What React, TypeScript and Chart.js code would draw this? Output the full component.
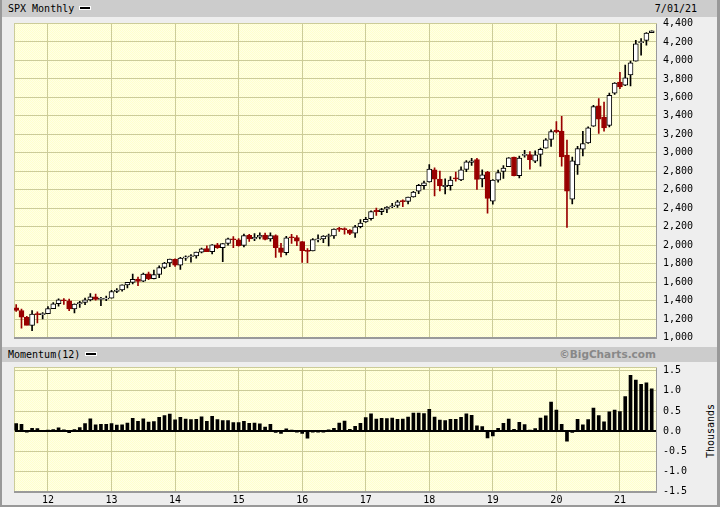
import React, { useEffect, useRef } from "react";
import { Chart, registerables } from "chart.js";

Chart.register(...registerables);

const MONO = "'DejaVu Sans Mono', monospace";
const KHAKI = "#cccc99";
const RED = "#990000";

// Monthly bars, Jul 2011 … Jul 2021 (index 0 = Jul 2011)
const openValues = [
  1320.6, 1292.6, 1219.1, 1131.2, 1251.0, 1246.9,
  1258.9, 1312.4, 1365.9, 1408.5, 1397.9, 1310.0, 1362.3, 1379.3, 1406.5, 1440.9, 1412.2, 1416.2,
  1426.2, 1498.1, 1514.7, 1569.2, 1597.6, 1631.7, 1609.8, 1689.4, 1635.9, 1682.4, 1758.7, 1806.6,
  1845.9, 1782.7, 1857.7, 1874.0, 1884.4, 1923.9, 1962.3, 1929.8, 2004.1, 1971.4, 2018.2, 2065.8,
  2058.9, 1996.7, 2105.2, 2067.6, 2087.4, 2108.6, 2067.0, 2104.5, 1970.1, 1919.7, 2080.8, 2082.9,
  2038.2, 1936.9, 1937.1, 2056.6, 2067.2, 2093.9, 2099.3, 2173.2, 2171.3, 2164.3, 2128.7, 2200.2,
  2251.6, 2285.6, 2380.1, 2362.3, 2388.5, 2415.7, 2431.4, 2477.1, 2474.4, 2521.2, 2583.2, 2645.1,
  2683.7, 2816.5, 2715.2, 2633.4, 2643.0, 2718.7, 2705.0, 2821.2, 2897.0, 2926.3, 2717.6, 2790.5,
  2477.0, 2702.3, 2798.2, 2848.6, 2952.3, 2751.5, 2971.4, 2980.3, 2909.0, 2983.7, 3050.7, 3143.9,
  3244.7, 3235.7, 2974.3, 2498.1, 2869.1, 3038.8, 3105.9, 3288.3, 3507.4, 3385.9, 3296.2, 3645.9,
  3764.6, 3731.2, 3842.5, 3992.8, 4192.0, 4216.5, 4300.7,
];
const highValues = [
  1356.5, 1307.4, 1229.3, 1292.7, 1277.6, 1269.4,
  1333.5, 1378.0, 1419.2, 1422.4, 1415.3, 1363.5, 1391.7, 1426.7, 1474.5, 1471.0, 1434.3, 1448.0,
  1509.9, 1530.9, 1570.3, 1597.6, 1687.2, 1654.2, 1698.8, 1709.7, 1729.9, 1775.2, 1813.6, 1849.4,
  1850.8, 1867.9, 1884.0, 1897.3, 1924.0, 1968.2, 1991.4, 2005.0, 2019.3, 2018.2, 2075.8, 2093.6,
  2072.4, 2119.6, 2117.5, 2125.9, 2134.7, 2129.9, 2132.8, 2112.7, 2020.9, 2094.3, 2116.5, 2104.3,
  2038.2, 1963.0, 2072.2, 2111.1, 2103.5, 2120.6, 2177.1, 2193.8, 2187.9, 2169.6, 2214.1, 2277.5,
  2301.0, 2371.5, 2401.0, 2398.2, 2418.7, 2453.8, 2484.0, 2490.9, 2519.4, 2583.0, 2657.7, 2695.0,
  2872.9, 2836.0, 2801.9, 2717.5, 2742.2, 2791.5, 2848.0, 2916.5, 2940.9, 2939.9, 2815.2, 2800.2,
  2709.0, 2813.5, 2860.3, 2949.5, 2954.1, 2964.2, 3028.0, 3013.6, 3022.0, 3050.1, 3154.3, 3247.9,
  3337.8, 3393.5, 3136.7, 2954.9, 3068.7, 3233.1, 3280.0, 3514.8, 3588.1, 3549.9, 3646.0, 3760.2,
  3870.9, 3950.4, 3994.4, 4218.8, 4238.0, 4302.4, 4320.7,
];
const lowValues = [
  1282.9, 1101.5, 1136.4, 1074.8, 1158.7, 1202.4,
  1258.9, 1312.4, 1340.0, 1357.4, 1291.0, 1266.7, 1325.4, 1354.7, 1396.6, 1403.3, 1343.4, 1398.1,
  1426.2, 1485.0, 1501.5, 1536.0, 1581.3, 1560.3, 1604.6, 1627.5, 1633.4, 1646.5, 1746.2, 1768.0,
  1770.5, 1737.9, 1834.4, 1814.4, 1859.8, 1916.0, 1930.7, 1904.8, 1964.0, 1820.7, 2001.0, 1972.6,
  1988.1, 1980.9, 2039.7, 2048.4, 2067.9, 2056.3, 2044.0, 1867.0, 1871.9, 1893.7, 2019.4, 1993.3,
  1812.3, 1810.1, 1937.1, 2033.8, 2025.9, 1991.7, 2074.0, 2147.6, 2119.1, 2114.7, 2083.8, 2187.4,
  2245.1, 2271.7, 2322.3, 2329.0, 2352.7, 2405.7, 2407.7, 2417.4, 2446.6, 2520.4, 2557.4, 2605.5,
  2682.4, 2532.7, 2585.9, 2553.8, 2594.6, 2692.0, 2699.0, 2796.3, 2864.1, 2603.5, 2631.1, 2346.6,
  2444.0, 2681.8, 2722.3, 2848.6, 2750.5, 2728.8, 2952.2, 2822.1, 2891.9, 2855.9, 3050.7, 3070.3,
  3214.6, 2855.8, 2191.9, 2447.5, 2766.6, 2965.7, 3101.2, 3284.5, 3209.5, 3233.9, 3279.7, 3633.4,
  3694.1, 3725.6, 3723.3, 3992.8, 4056.9, 4164.4, 4300.7,
];
const closeValues = [
  1292.3, 1219.0, 1131.4, 1253.3, 1247.0, 1257.6,
  1312.4, 1365.7, 1408.5, 1397.9, 1310.3, 1362.2, 1379.3, 1406.6, 1440.7, 1412.2, 1416.2, 1426.2,
  1498.1, 1514.7, 1569.2, 1597.6, 1630.7, 1606.3, 1685.7, 1633.0, 1681.6, 1756.5, 1805.8, 1848.4,
  1782.6, 1859.5, 1872.3, 1884.0, 1923.6, 1960.2, 1930.7, 2003.4, 1972.3, 2018.1, 2067.6, 2058.9,
  1995.0, 2104.5, 2067.9, 2085.5, 2107.4, 2063.1, 2103.8, 1972.2, 1920.0, 2079.4, 2080.4, 2043.9,
  1940.2, 1932.2, 2059.7, 2065.3, 2097.0, 2098.9, 2173.6, 2171.0, 2168.3, 2126.2, 2199.0, 2238.8,
  2278.9, 2363.6, 2362.7, 2384.2, 2411.8, 2423.4, 2470.3, 2471.7, 2519.4, 2575.3, 2647.6, 2673.6,
  2823.8, 2713.8, 2640.9, 2648.1, 2705.3, 2718.4, 2816.3, 2901.5, 2914.0, 2711.7, 2760.2, 2506.9,
  2704.1, 2784.5, 2834.4, 2945.8, 2752.1, 2941.8, 2980.4, 2926.5, 2976.7, 3037.6, 3141.0, 3230.8,
  3225.5, 2954.2, 2584.6, 2912.4, 3044.3, 3100.3, 3271.1, 3500.3, 3363.0, 3270.0, 3621.6, 3756.1,
  3714.2, 3811.2, 3972.9, 4181.2, 4204.1, 4297.5, 4319.9,
];
// Momentum(12), in thousands
const momentumValues = [
  0.191, 0.170, -0.010, 0.070, 0.066, 0.000,
  0.026, 0.039, 0.083, 0.034, -0.035, 0.042, 0.087, 0.188, 0.309, 0.159, 0.169, 0.169,
  0.186, 0.149, 0.161, 0.200, 0.320, 0.244, 0.306, 0.226, 0.241, 0.344, 0.390, 0.422,
  0.285, 0.345, 0.303, 0.286, 0.293, 0.354, 0.245, 0.370, 0.291, 0.262, 0.262, 0.211,
  0.212, 0.245, 0.196, 0.202, 0.184, 0.103, 0.173, -0.031, -0.052, 0.061, 0.013, -0.015,
  -0.055, -0.172, -0.008, -0.020, -0.011, 0.036, 0.070, 0.199, 0.248, 0.047, 0.119, 0.195,
  0.339, 0.431, 0.303, 0.319, 0.315, 0.325, 0.297, 0.301, 0.351, 0.449, 0.449, 0.435,
  0.545, 0.350, 0.278, 0.264, 0.294, 0.295, 0.346, 0.430, 0.395, 0.136, 0.113, -0.167,
  -0.120, 0.071, 0.194, 0.298, 0.047, 0.223, 0.164, 0.025, 0.063, 0.326, 0.381, 0.724,
  0.521, 0.170, -0.250, -0.033, 0.292, 0.159, 0.291, 0.574, 0.386, 0.232, 0.481, 0.525,
  0.489, 0.857, 1.388, 1.269, 1.160, 1.197, 1.049,
];
// January bars (gridlines) and their year labels
const januaryIndex = [6, 18, 30, 42, 54, 66, 78, 90, 102, 114];
const yearLabels = ["12", "13", "14", "15", "16", "17", "18", "19", "20", "21"];
const priceTicks = [1000, 1200, 1400, 1600, 1800, 2000, 2200, 2400, 2600, 2800, 3000, 3200, 3400, 3600, 3800, 4000, 4200, 4400];
const momentumTicks = [-1.5, -1.0, -0.5, 0.0, 0.5, 1.0, 1.5];

const X_MIN = -0.415;
const X_MAX = 121.0;

const plotDecor = {
  id: "plotDecor",
  beforeDraw(chart: any) {
    const { ctx, chartArea: a } = chart;
    const pc = document.createElement("canvas");
    pc.width = 2;
    pc.height = 2;
    const p = pc.getContext("2d")!;
    p.fillStyle = "#ffffe6";
    p.fillRect(0, 0, 2, 2);
    p.fillStyle = "#ffffcc";
    p.fillRect(0, 0, 1, 1);
    p.fillRect(1, 1, 1, 1);
    ctx.save();
    ctx.fillStyle = ctx.createPattern(pc, "repeat");
    ctx.fillRect(a.left, a.top, a.right - a.left, a.bottom - a.top);
    ctx.restore();
  },
  beforeDatasetsDraw(chart: any) {
    const { ctx, chartArea: a } = chart;
    const l = Math.round(a.left), t = Math.round(a.top), r = Math.round(a.right), b = Math.round(a.bottom);
    ctx.save();
    ctx.fillStyle = KHAKI;
    ctx.fillRect(l, t - 1, r - l, 1);
    ctx.fillRect(l, t, 1, b - t);
    ctx.fillStyle = "#9a9a9a";
    ctx.fillRect(l, b - 1, r - l, 2);
    ctx.fillRect(r - 1, t, 1, b - t);
    ctx.restore();
  },
};

const xGrid = {
  color: KHAKI,
  lineWidth: 1,
  drawTicks: false,
  offset: false,
};

function PriceChart() {
  const ref = useRef<HTMLCanvasElement>(null);
  useEffect(() => {
    const down = closeValues.map((c, i) => c < openValues[i]);
    const bodies = openValues.map((o, i) => ({ x: i, y: [Math.min(o, closeValues[i]), Math.max(o, closeValues[i])] }));
    const wicks = lowValues.map((l, i) => ({ x: i, y: [l, highValues[i]] }));
    const chart = new Chart(ref.current!, {
      type: "bar",
      data: {
        datasets: [
          {
            data: bodies as any,
            grouped: false,
            barThickness: 5,
            minBarLength: 1,
            borderSkipped: false,
            borderWidth: 1,
            borderColor: down.map((d) => (d ? RED : "#000000")),
            backgroundColor: down.map((d) => (d ? RED : "#ffffff")),
          } as any,
          {
            data: wicks as any,
            grouped: false,
            barThickness: 1,
            borderWidth: 0,
            backgroundColor: down.map((d) => (d ? RED : "#000000")),
          } as any,
        ],
      },
      options: {
        responsive: false,
        devicePixelRatio: 1,
        animation: false,
        events: [],
        layout: { padding: { top: 15.5, bottom: 12.5, left: 0, right: 0 } },
        plugins: { legend: { display: false }, tooltip: { enabled: false } },
        scales: {
          x: {
            type: "linear",
            offset: false,
            min: X_MIN,
            max: X_MAX,
            grid: xGrid,
            border: { display: false },
            ticks: { display: false },
            afterBuildTicks: (s: any) => {
              s.ticks = januaryIndex.map((v) => ({ value: v }));
            },
            afterFit: (s: any) => {
              s.height = 0;
            },
          },
          y: {
            position: "right",
            min: 1000,
            max: 4400,
            grid: { color: KHAKI, lineWidth: 1, drawTicks: false },
            border: { display: false },
            afterBuildTicks: (s: any) => {
              s.ticks = priceTicks.map((v) => ({ value: v }));
            },
            afterFit: (s: any) => {
              s.width = 63;
            },
            ticks: {
              padding: 6,
              color: "#000",
              font: { family: MONO, size: 10 },
              callback: (v: any) => Number(v).toLocaleString("en-US"),
            },
          },
        },
      } as any,
      plugins: [plotDecor],
    });
    return () => chart.destroy();
  }, []);
  return (
    <canvas
      ref={ref}
      width={706}
      height={342}
      style={{ position: "absolute", left: 14, top: 8, width: 706, height: 342 }}
    />
  );
}

function MomentumChart() {
  const ref = useRef<HTMLCanvasElement>(null);
  useEffect(() => {
    const chart = new Chart(ref.current!, {
      type: "bar",
      data: {
        datasets: [
          {
            data: momentumValues.map((m, i) => ({ x: i, y: m })) as any,
            grouped: false,
            barThickness: 3,
            borderWidth: 0,
            backgroundColor: "#000000",
          } as any,
        ],
      },
      options: {
        responsive: false,
        devicePixelRatio: 1,
        animation: false,
        events: [],
        layout: { padding: { top: 12, bottom: 0, left: 0, right: 0 } },
        plugins: { legend: { display: false }, tooltip: { enabled: false } },
        scales: {
          x: {
            type: "linear",
            offset: false,
            min: X_MIN,
            max: X_MAX,
            grid: xGrid,
            border: { display: false },
            afterBuildTicks: (s: any) => {
              s.ticks = januaryIndex.map((v) => ({ value: v }));
            },
            afterFit: (s: any) => {
              s.height = 18.3;
            },
            ticks: {
              padding: 3,
              maxRotation: 0,
              autoSkip: false,
              color: "#000",
              font: { family: MONO, size: 10 },
              callback: (v: any) => yearLabels[januaryIndex.indexOf(Number(v))],
            },
          },
          y: {
            position: "right",
            min: -1.5,
            max: 1.567,
            grid: {
              color: (c: any) => (c.tick && c.tick.value === 0 ? "#000000" : KHAKI),
              lineWidth: (c: any) => (c.tick && c.tick.value === 0 ? 2 : 1),
              drawTicks: false,
            },
            border: { display: false },
            afterBuildTicks: (s: any) => {
              s.ticks = momentumTicks.map((v) => ({ value: v }));
            },
            afterFit: (s: any) => {
              s.width = 63;
            },
            ticks: {
              padding: 6,
              color: "#000",
              font: { family: MONO, size: 10 },
              callback: (v: any) => Number(v).toFixed(1),
            },
          },
        },
      } as any,
      plugins: [plotDecor],
    });
    return () => chart.destroy();
  }, []);
  return (
    <canvas
      ref={ref}
      width={706}
      height={154}
      style={{ position: "absolute", left: 14, top: 356, width: 706, height: 154 }}
    />
  );
}

const swatch = (left: number, top: number): React.CSSProperties => ({
  position: "absolute",
  left,
  top,
  width: 12,
  height: 4,
  boxSizing: "border-box",
  background: "#000",
  border: "1px solid #fff",
});

export default function App() {
  const band: React.CSSProperties = { position: "absolute", left: 2, width: 715, background: "#cccccc" };
  const txt: React.CSSProperties = {
    position: "absolute",
    fontFamily: MONO,
    fontSize: 10,
    color: "#000",
    whiteSpace: "nowrap",
  };
  return (
    <div style={{ position: "fixed", left: 0, top: 0, width: 720, height: 510, background: "#ffffff", overflow: "hidden" }}>
      <div
        style={{
          position: "absolute",
          left: 0,
          top: 0,
          width: 720,
          height: 507,
          boxSizing: "border-box",
          background: "#eeeeee",
          borderLeft: "2px solid #999999",
          borderRight: "3px solid #999999",
          borderBottom: "2px solid #999999",
        }}
      />
      <div style={{ ...band, top: 0, height: 17 }} />
      <div style={{ ...txt, left: 8, top: 0, lineHeight: "17px" }}>SPX Monthly</div>
      <div style={swatch(79, 6)} />
      <div style={{ ...txt, right: 23, top: 0, lineHeight: "17px" }}>7/01/21</div>

      <div style={{ ...band, top: 347, height: 15 }} />
      <div style={{ ...txt, left: 8, top: 347, lineHeight: "15px" }}>Momentum(12)</div>
      <div style={swatch(85, 352)} />
      <div
        style={{
          ...txt,
          right: 64,
          top: 347,
          lineHeight: "15px",
          fontFamily: "'DejaVu Sans', sans-serif",
          fontWeight: "bold",
          fontSize: 10.5,
          color: "#888888",
        }}
      >
        ©BigCharts.com
      </div>
      <div
        style={{
          ...txt,
          left: 710,
          top: 431,
          transform: "translate(-50%, -50%) rotate(-90deg)",
        }}
      >
        Thousands
      </div>

      <PriceChart />
      <MomentumChart />
    </div>
  );
}
